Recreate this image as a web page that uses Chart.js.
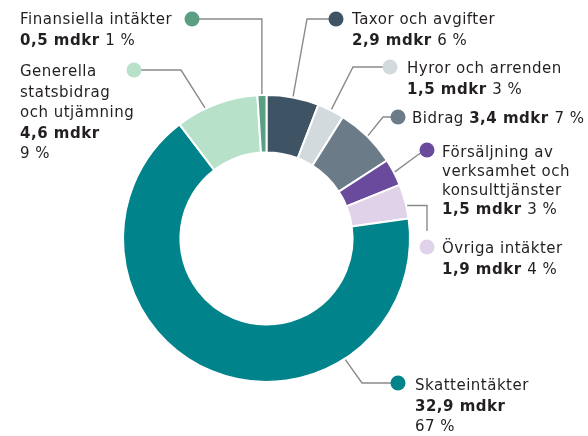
<!DOCTYPE html>
<html lang="sv">
<head>
<meta charset="utf-8">
<script src="https://cdn.jsdelivr.net/npm/chart.js@4/dist/chart.umd.min.js"></script>
<style>
  html, body { margin: 0; padding: 0; background: #fff; }
  #intakter { display: block; }
</style>
</head>
<body>
<canvas id="intakter" width="588" height="436"></canvas>
<script>
// intäkter, miljarder kronor (clockwise from 12 o'clock)
const kategorier = ['Taxor och avgifter', 'Hyror och arrenden', 'Bidrag', 'Försäljning av\nverksamhet och\nkonsulttjänster', 'Övriga intäkter', 'Skatteintäkter', 'Generella\nstatsbidrag\noch utjämning', 'Finansiella intäkter']
const mdkr = [2.9, 1.5, 3.4, 1.5, 1.9, 32.9, 4.6, 0.5]
const farger = ['#3e5363', '#d3dadd', '#6b7b88', '#6a4a9c', '#e0d2e8', '#00838a', '#b7e1c9', '#5a9e83']

// placement of each label: where on the arc the leader starts (0-1 of the slice),
// bends of the leader, dot, text start and how the value/percent lines are laid out
const etiketter = [
  { frac: 0.5, bend: [[307, 19]], dot: [336, 19], tx: 352, ty: 24, fmt: 'two' },
  { frac: 0.5, bend: [[353, 67]], dot: [390, 67], tx: 407, ty: 73, fmt: 'two' },
  { frac: 0.5, bend: [[383, 117]], dot: [398, 117], tx: 412, ty: 123, fmt: 'inline' },
  { frac: 0.5, bend: [[419, 154]], dot: [427, 150], tx: 442, ty: 157, fmt: 'two', lh: 19 },
  { frac: 0.63, bend: [[427, 'a'], [427, 231]], dot: [427, 247], tx: 442, ty: 253, fmt: 'two', noJoin: true },
  { frac: 0.27, bend: [[362, 383]], dot: [398, 383], tx: 415, ty: 390, fmt: 'split' },
  { frac: 0.36, bend: [[181, 70]], dot: [134, 70], tx: 20, ty: 76, fmt: 'split' },
  { frac: 0.5, bend: [['a', 19]], dot: [192, 19], tx: 20, ty: 24, fmt: 'two' }
]

const summa = mdkr.reduce((a, b) => a + b, 0)
const FONT = '"DejaVu Sans", sans-serif'

const ledare = {
  id: 'ledare',
  afterDraw(chart) {
    const c = chart.ctx
    const arcs = chart.getDatasetMeta(0).data
    c.save()
    arcs.forEach((arc, i) => {
      const e = etiketter[i]
      const p = arc.getProps(['x', 'y', 'startAngle', 'endAngle', 'outerRadius'])
      const ang = p.startAngle + (p.endAngle - p.startAngle) * e.frac
      const ax = p.x + Math.cos(ang) * (p.outerRadius + 1)
      const ay = p.y + Math.sin(ang) * (p.outerRadius + 1)

      // leader line
      c.strokeStyle = '#8a8a8a'
      c.lineWidth = 1.4
      c.beginPath()
      c.moveTo(ax, ay)
      e.bend.forEach(b => c.lineTo(b[0] === 'a' ? ax : b[0], b[1] === 'a' ? ay : b[1]))
      if (!e.noJoin) c.lineTo(e.dot[0], e.dot[1])
      c.stroke()

      // dot
      c.fillStyle = farger[i]
      c.beginPath()
      c.arc(e.dot[0], e.dot[1], 7.5, 0, Math.PI * 2)
      c.fill()

      // text
      const namn = kategorier[i].split('\n')
      const varde = mdkr[i].toFixed(1).replace('.', ',') + ' mdkr'
      const pct = Math.round(mdkr[i] / summa * 100) + ' %'
      let rader
      if (e.fmt === 'inline') rader = [[[namn[0] + ' ', false], [varde + ' ', true], [pct, false]]]
      else if (e.fmt === 'two') rader = namn.map(n => [[n, false]]).concat([[[varde + ' ', true], [pct, false]]])
      else rader = namn.map(n => [[n, false]]).concat([[[varde, true]], [[pct, false]]])

      const lh = e.lh || 20.5
      c.fillStyle = '#231f20'
      c.textBaseline = 'alphabetic'
      c.letterSpacing = '0.5px'
      rader.forEach((rad, r) => {
        let x = e.tx
        rad.forEach(([t, fet]) => {
          c.font = (fet ? 'bold ' : '') + '15px ' + FONT
          c.fillText(t, x, e.ty + r * lh)
          x += c.measureText(t).width
        })
      })
    })
    c.restore()
  }
}

new Chart(document.getElementById('intakter'), {
  type: 'doughnut',
  data: {
    labels: kategorier,
    datasets: [{
      data: mdkr,
      backgroundColor: farger,
      borderColor: '#ffffff',
      borderWidth: 2
    }]
  },
  options: {
    responsive: false,
    animation: false,
    cutout: '60%',
    rotation: 0,
    layout: { padding: { left: 122, right: 177, top: 94, bottom: 53 } },
    plugins: {
      legend: { display: false },
      tooltip: { enabled: false }
    }
  },
  plugins: [ledare]
})
</script>
</body>
</html>
